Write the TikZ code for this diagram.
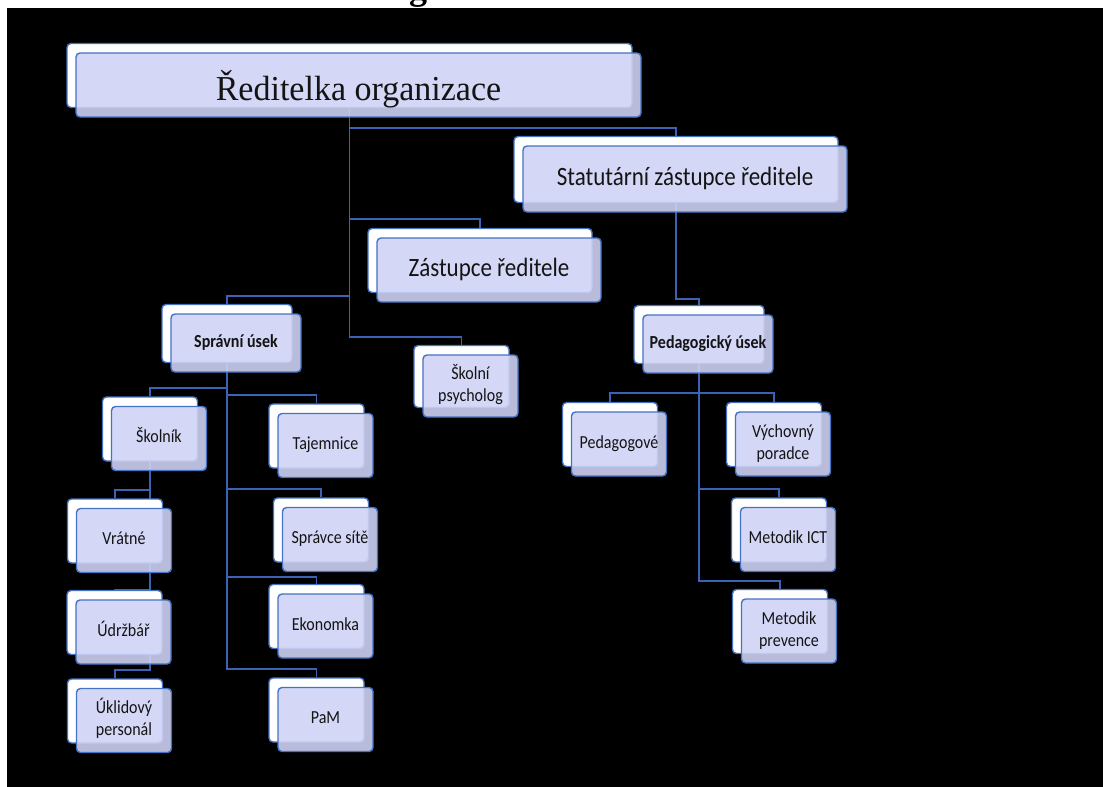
\documentclass[tikz,border=0pt]{standalone}
\usepackage{fontspec}
\usepackage{graphicx}
\setmainfont{Carlito}
\newfontfamily\seriffont{Liberation Serif}
\usetikzlibrary{calc}
\definecolor{lineblue}{RGB}{60,98,182}
\definecolor{boxblue}{RGB}{68,114,196}
\definecolor{lav}{RGB}{207,211,245}
\definecolor{txt}{RGB}{20,20,20}
\pgfdeclarelayer{background}
\pgfdeclarelayer{lines}
\pgfsetlayers{background,lines,main}
\tikzset{
  boxsize/.style={minimum width=95pt, minimum height=64pt},
  backbox/.style={draw=boxblue, line width=1.4pt, fill=white, rounded corners=4pt, inner sep=0pt, boxsize},
  frontbox/.style={draw=boxblue, line width=1.4pt, fill=lav, fill opacity=0.89, text opacity=1,
    rounded corners=4pt, inner sep=0pt, align=center, text=txt, boxsize,
    font=\fontsize{16}{19}\selectfont},
  conn/.style={draw=lineblue, line width=1.4pt},
}
\newcommand\stretchfac{1.15}
\newcommand\tall[1]{\scalebox{1}[\stretchfac]{\begin{tabular}{@{}c@{}}#1\end{tabular}}}
% [size options] name, front centre x, front centre y, text
\newcommand\obox[5][]{%
  \node[backbox,#1] (#2b) at (#3-9,#4-9.5) {};
  \node[frontbox,#1] (#2) at (#3,#4) {\tall{#5}};}
\begin{document}
\begin{tikzpicture}[x=1pt,y=-1pt]
\useasboundingbox (0,0) rectangle (1103,787);
\begin{pgfonlayer}{background}
  \fill[white] (0,0) rectangle (1103,787);
  \fill[black] (7,8) rectangle (1103,787);
\end{pgfonlayer}
\begin{scope}
  \clip (0,0) rectangle (1103,8);
  \node[font=\seriffont\bfseries\fontsize{36}{40}\selectfont, anchor=base west, inner sep=0pt] (title) at (365,-1) {Organizační struktura};
\end{scope}

\obox[minimum width=565pt, minimum height=64pt, font=\seriffont\fontsize{34}{40}\selectfont\renewcommand\stretchfac{1.03}]{dir}{358.5}{85}{\raisebox{-7.5pt}[0pt][0pt]{Ředitelka organizace}}
\obox[minimum width=324pt, minimum height=66pt, font=\fontsize{23}{28}\selectfont]{stat}{685}{179}{Statutární zástupce ředitele}
\obox[minimum width=224pt, minimum height=64pt, font=\fontsize{23}{28}\selectfont]{zast}{489}{270}{Zástupce ředitele}
\obox[minimum width=130pt, minimum height=58pt, font=\bfseries\fontsize{16}{19}\selectfont]{spr}{236}{343}{Správní úsek}
\obox[minimum width=130pt, minimum height=58pt, font=\bfseries\fontsize{16}{19}\selectfont]{ped}{708}{344}{Pedagogický úsek}
\obox[minimum height=62pt]{psy}{470.5}{386}{Školní\\psycholog}

\obox{skolnik}{159}{438.5}{Školník}
\obox{vrat}{124}{540.5}{Vrátné}
\obox{udr}{123.5}{632}{Údržbář}
\obox{ukl}{124}{720.5}{Úklidový\\personál}

\obox{taj}{325.5}{445.5}{Tajemnice}
\obox{sprs}{330}{539.5}{Správce sítě}
\obox{eko}{325.5}{626}{Ekonomka}
\obox{pam}{325.5}{719.5}{PaM}

\obox{pedg}{619}{444}{Pedagogové}
\obox{vych}{783}{444}{Výchovný\\poradce}
\obox{ict}{788}{539.5}{Metodik ICT}
\obox{prev}{789}{631}{Metodik\\prevence}

\begin{pgfonlayer}{lines}
  \draw[conn] (dirb.south) -- (dirb.south |- 0,128) -| (statb.north);
  \draw[conn] (dirb.south) -- (dirb.south |- 0,219) -| (zastb.north);
  \draw[conn] (dirb.south) -- (dirb.south |- 0,296) -| (sprb.north);
  \draw[conn] (dirb.south) -- (dirb.south |- 0,337) -| (psyb.north);
  \draw[conn] (statb.south) -- (statb.south |- 0,299) -| (pedb.north);

  \draw[conn] (sprb.south) -- (sprb.south |- 0,388) -| (skolnikb.north);
  \draw[conn] (sprb.south) -- (sprb.south |- 0,395) -| (tajb.north);
  \draw[conn] (sprb.south) -- (sprb.south |- 0,489) -| (sprsb.north);
  \draw[conn] (sprb.south) -- (sprb.south |- 0,577) -| (ekob.north);
  \draw[conn] (sprb.south) -- (sprb.south |- 0,669) -| (pamb.north);

  \draw[conn] (skolnikb.south) -- (skolnikb.south |- 0,490) -| (vratb.north);
  \draw[conn] (skolnikb.south) -- (skolnikb.south |- 0,590) -| (udrb.north);
  \draw[conn] (skolnikb.south) -- (skolnikb.south |- 0,670) -| (uklb.north);

  \draw[conn] (pedb.south) -- (pedb.south |- 0,393) -| (pedgb.north);
  \draw[conn] (pedb.south) -- (pedb.south |- 0,393) -| (vychb.north);
  \draw[conn] (pedb.south) -- (pedb.south |- 0,489) -| (ictb.north);
  \draw[conn] (pedb.south) -- (pedb.south |- 0,581) -| (prevb.north);
\end{pgfonlayer}
\end{tikzpicture}
\end{document}
